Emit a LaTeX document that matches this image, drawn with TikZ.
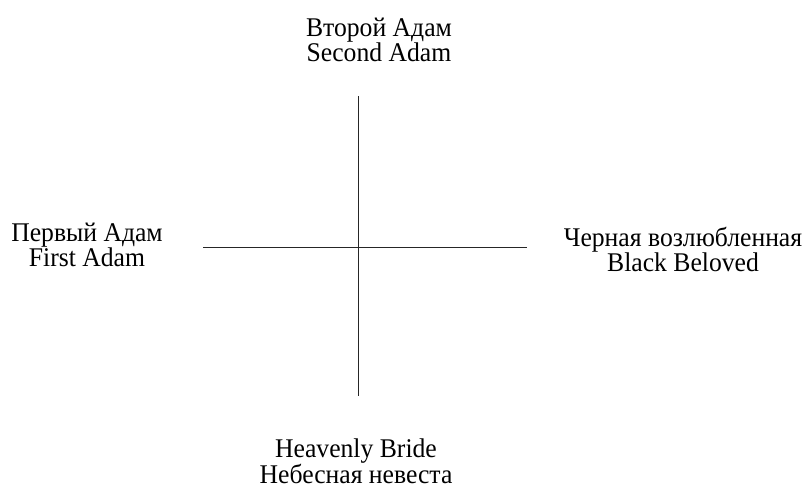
\documentclass[tikz,border=0pt]{standalone}
\usepackage{fontspec}
\setmainfont[FakeStretch=0.95]{Liberation Serif}
\usepackage{xcolor}
\newcommand{\LabelSize}{27}
\newcommand{\LabelSkip}{25}
\newcommand{\AxisWidth}{1.8pt}
\colorlet{AxisColor}{black!85}

\begin{document}
\begin{tikzpicture}[x=1pt, y=-1pt,
		quadlabel/.style={font=\fontsize{\LabelSize}{\LabelSkip}\selectfont, align=center, inner sep=0pt},
		axis/.style={AxisColor, line width=\AxisWidth}]
		\useasboundingbox (0,0) rectangle (812,488);
		
		% ends of the cross
		\coordinate (axTop) at (358.5, 96);
		\coordinate (axBottom) at (358.5, 396);
		\coordinate (axLeft) at (203, 247.5);
		\coordinate (axRight) at (527, 247.5);
		
		\draw[axis] (axTop) -- (axBottom);
		\draw[axis] (axLeft) -- (axRight);
		
		% the four labels
		\node[quadlabel] (secondAdam) at (379, 40) {Второй Адам\\Second Adam};
		\node[quadlabel] (firstAdam) at (87, 245) {Первый Адам\\First Adam};
		\node[quadlabel] (blackBeloved) at (683, 249) {Черная возлюбленная\\Black Beloved};
		\node[quadlabel] (heavenlyBride) at (356, 461) {Heavenly Bride\\Небесная невеста};
	\end{tikzpicture}
\end{document}
